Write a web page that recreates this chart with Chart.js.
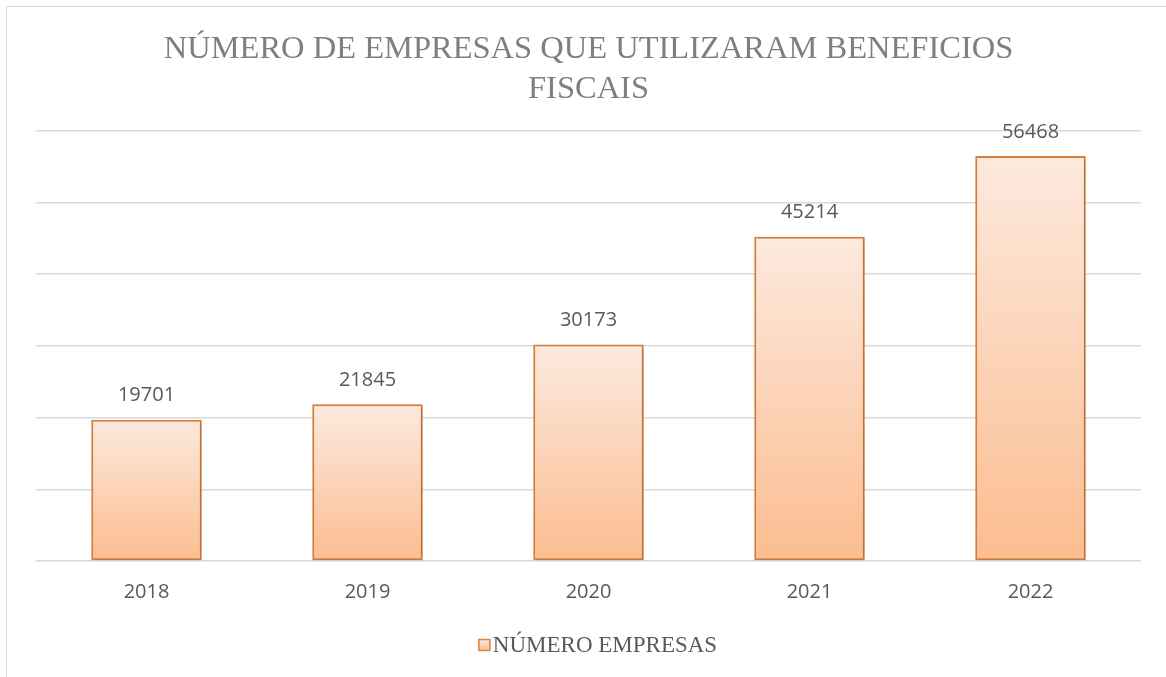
<!DOCTYPE html>
<html>
<head>
<meta charset="utf-8">
<script src="https://cdn.jsdelivr.net/npm/chart.js@4"></script>
<style>
  html, body { margin: 0; padding: 0; background: #fff; overflow: hidden; }
  #frame {
    position: absolute; left: 6px; top: 6px; width: 1170px; height: 680px;
    border-left: 1px solid #d9d9d9; border-top: 1px solid #d9d9d9;
  }
  #wrap { position: absolute; left: 0; top: 0; width: 1166px; height: 677px; }
</style>
</head>
<body>
<div id="frame"></div>
<div id="wrap"><canvas id="chart"></canvas></div>
<script>
// Chart data
const years = ['2018', '2019', '2020', '2021', '2022'];
const empresas = [19701, 21845, 30173, 45214, 56468];
const seriesName = 'NÚMERO EMPRESAS';
const titleLines = ['NÚMERO DE EMPRESAS QUE UTILIZARAM BENEFICIOS', 'FISCAIS'];

const textGray = '#595959';
const serif = '"Liberation Serif", "Times New Roman", serif';
const sans = '"Open Sans", "Liberation Sans", sans-serif';

// per-bar vertical gradient, light on top
function barGradient(context) {
    const chart = context.chart;
    const { ctx, chartArea, scales } = chart;
    if (!chartArea) return '#fcd3b6';
    const top = scales.y.getPixelForValue(context.raw);
    const bottom = scales.y.getPixelForValue(0);
    const g = ctx.createLinearGradient(0, top, 0, bottom);
    g.addColorStop(0, '#fde9de');
    g.addColorStop(1, '#fbbd90');
    return g;
}

// value labels above bars
const valueLabels = {
    id: 'valueLabels',
    afterDatasetsDraw(chart) {
        const { ctx } = chart;
        const meta = chart.getDatasetMeta(0);
        ctx.save();
        ctx.font = '20px ' + sans;
        ctx.fillStyle = textGray;
        ctx.textAlign = 'center';
        ctx.textBaseline = 'middle';
        meta.data.forEach((bar, i) => {
            ctx.fillText(String(empresas[i]), bar.x, bar.y - 24);
        });
        ctx.restore();
    }
};

// soft shadow behind bars
const barShadow = {
    id: 'barShadow',
    beforeDatasetsDraw(chart) {
        const ctx = chart.ctx;
        ctx.save();
        ctx.shadowColor = 'rgba(0,0,0,0.22)';
        ctx.shadowBlur = 4;
        ctx.shadowOffsetX = 1;
        ctx.shadowOffsetY = 1;
    },
    afterDatasetsDraw(chart) {
        chart.ctx.restore();
    }
};

// legend like the office one: small box tight against the text
const bottomLegend = {
    id: 'bottomLegend',
    afterDraw(chart) {
        const { ctx, width } = chart;
        ctx.save();
        ctx.font = '23px ' + serif;
        const tw = ctx.measureText(seriesName).width;
        const box = 11, gap = 3;
        const x0 = (width - (box + gap + tw)) / 2 + 15;
        const cy = 645;
        const g = ctx.createLinearGradient(0, cy - box / 2, 0, cy + box / 2);
        g.addColorStop(0, '#fde9de');
        g.addColorStop(1, '#fbbd90');
        ctx.fillStyle = g;
        ctx.fillRect(x0, cy - box / 2, box, box);
        ctx.strokeStyle = '#e0823a';
        ctx.lineWidth = 1.5;
        ctx.strokeRect(x0, cy - box / 2, box, box);
        ctx.fillStyle = textGray;
        ctx.textBaseline = 'middle';
        ctx.textAlign = 'left';
        ctx.fillText(seriesName, x0 + box + gap, cy + 1);
        ctx.restore();
    }
};

new Chart(document.getElementById('chart'), {
    type: 'bar',
    data: {
        labels: years,
        datasets: [{
            label: seriesName,
            data: empresas,
            backgroundColor: barGradient,
            borderColor: '#e0823a',
            borderWidth: 2,
            borderSkipped: false,
            barPercentage: 0.5,
            categoryPercentage: 1.0
        }]
    },
    options: {
        responsive: true,
        maintainAspectRatio: false,
        animation: false,
        layout: { padding: { left: 36, right: 25, top: 0, bottom: 55 } },
        plugins: {
            title: {
                display: true,
                text: titleLines,
                color: '#7f7f7f',
                font: { family: serif, size: 32.5, weight: 'normal', lineHeight: 1.24 },
                padding: { top: 29, bottom: 21 }
            },
            legend: { display: false },
            tooltip: { enabled: false }
        },
        scales: {
            x: {
                grid: { display: false },
                border: { display: false },
                ticks: { color: textGray, font: { family: sans, size: 20 }, padding: 11 },
                afterFit(scale) { scale.height = 61; }
            },
            y: {
                min: 0,
                max: 60000,
                ticks: { display: false, stepSize: 10000 },
                grid: { color: '#d9d9d9', lineWidth: 1.5, drawTicks: false },
                border: { display: false }
            }
        }
    },
    plugins: [barShadow, valueLabels, bottomLegend]
});
</script>
</body>
</html>
